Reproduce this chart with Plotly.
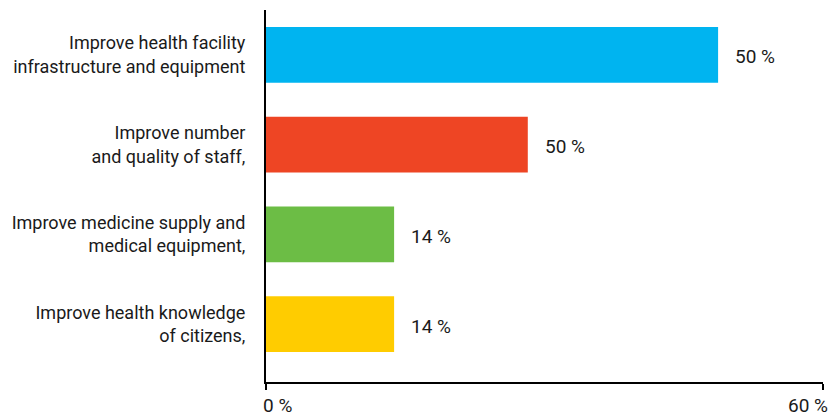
import plotly.graph_objects as go

categories = [
    "Improve health facility<br>infrastructure and equipment",
    "Improve number<br>and quality of staff,",
    "Improve medicine supply and<br>medical equipment,",
    "Improve health knowledge<br>of citizens,",
]
values = [48.7, 28.2, 13.8, 13.8]
value_labels = ["50 %", "50 %", "14 %", "14 %"]
colors = ["#00B4F0", "#EE4524", "#6CBD45", "#FFCC00"]
x_tick_vals = [0, 60]
x_tick_text = ["0 %", "60 %"]

FONT = "Roboto, Liberation Sans, sans-serif"
TXT = "#1a1a1a"
FS = 18

fig = go.Figure()
fig.add_trace(go.Bar(
    x=values, y=categories, orientation="h",
    marker=dict(color=colors, line=dict(width=0)),
    width=0.62, hoverinfo="skip",
))

for c, v, t in zip(categories, values, value_labels):
    fig.add_annotation(x=v, y=c, text=t, showarrow=False, xanchor="left",
                       xshift=15, yshift=-2,
                       font=dict(family=FONT, size=FS + 1, color=TXT))

anchors = ["left", "right"]
shifts = [-5, 7]
for v, t, a, s in zip(x_tick_vals, x_tick_text, anchors, shifts):
    fig.add_annotation(x=v, y=0, yref="paper", text=t, showarrow=False,
                       xanchor=a, yanchor="top", xshift=s, yshift=-10,
                       font=dict(family=FONT, size=FS + 1, color=TXT))

fig.update_layout(
    width=831, height=419,
    margin=dict(l=266, r=8, t=10, b=37, autoexpand=False),
    paper_bgcolor="white", plot_bgcolor="white",
    showlegend=False,
    font=dict(family=FONT, size=FS, color=TXT),
    xaxis=dict(range=[0, 60], showgrid=False, zeroline=False, automargin=False,
               showline=True, linecolor="black", linewidth=2,
               ticks="outside", ticklen=6, tickwidth=2, tickcolor="black",
               tickvals=x_tick_vals, showticklabels=False),
    yaxis=dict(type="category", range=[3.645, -0.5], showgrid=False,
               zeroline=False, showline=True, linecolor="black", linewidth=2,
               automargin=False, ticks="", ticklabelstandoff=15,
               tickfont=dict(family=FONT, size=FS, color=TXT)),
)

fig.write_html("out.html", config={"displayModeBar": False},
               post_script="document.body.style.margin='0px';")
